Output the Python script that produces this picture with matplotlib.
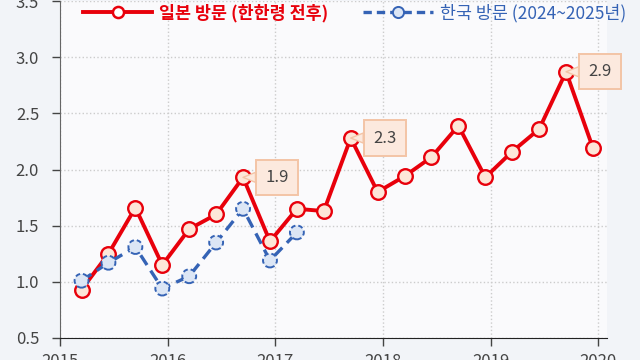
import matplotlib
matplotlib.use("Agg")
import matplotlib.pyplot as plt
from matplotlib.lines import Line2D

plt.rcParams['font.family'] = ['Noto Sans CJK KR', 'DejaVu Sans']

# quarterly points, in decimal years
quarters = [2015.2 + 0.25 * i for i in range(20)]
japan = [0.93, 1.25, 1.66, 1.15, 1.47, 1.60, 1.93, 1.36, 1.65, 1.63,
         2.28, 1.80, 1.94, 2.11, 2.39, 1.93, 2.16, 2.36, 2.87, 2.19]
korea = [1.01, 1.17, 1.31, 0.94, 1.05, 1.35, 1.65, 1.19, 1.44]
callouts = {6: "1.9", 10: "2.3", 18: "2.9"}

label_japan = "일본 방문 (한한령 전후)"
label_korea = "한국 방문 (2024~2025년)"

red = "#e8000b"
red_face = "#fde6d8"
blue = "#3563b5"
blue_face = "#dce6f5"

fig = plt.figure(figsize=(6.4, 3.6), dpi=100, facecolor="#f2f4f8")
ax = fig.add_axes([60 / 640, 22 / 360, 547 / 640, 337 / 360])
ax.set_facecolor("#fafafc")

ax.plot(quarters, japan, "-", color=red, lw=2.8, marker="o", ms=10.5,
        mfc=red_face, mec=red, mew=1.7, zorder=3)

ax.plot(quarters[:len(korea)], korea, color=blue, lw=2.4,
        dashes=(3.5, 2), zorder=4)
ax.scatter(quarters[:len(korea)], korea, s=100, facecolor=blue_face,
           edgecolor=blue, linewidths=1.4, linestyles=(0, (2.5, 1.5)),
           zorder=5)

for idx, txt in callouts.items():
    ax.annotate(txt, xy=(quarters[idx], japan[idx]), xytext=(34, 0),
                textcoords="offset pixels", ha="center", va="center",
                fontsize=12, color="#444444", zorder=6,
                bbox=dict(boxstyle="square,pad=0.55", fc="#fce9de",
                          ec="#f3c4a6", lw=1.4),
                arrowprops=dict(arrowstyle="wedge,tail_width=0.6",
                                fc="#fce9de", ec="#f3c4a6", lw=1.0,
                                shrinkA=0, shrinkB=0),
                annotation_clip=False)

ax.set_xlim(2015, 2020.08)
ax.set_ylim(0.5, 3.5)
ax.set_xticks([2015, 2016, 2017, 2018, 2019, 2020])
ax.set_yticks([0.5, 1.0, 1.5, 2.0, 2.5, 3.0, 3.5])
ax.set_yticklabels(["0.5", "1.0", "1.5", "2.0", "2.5", "3.0", "3.5"])
ax.tick_params(labelsize=12, colors="#444444", length=6, width=1)
ax.tick_params(axis="y", pad=9)
ax.tick_params(axis="x", pad=5)
ax.grid(color="#cccccc", ls=":", lw=1.0)
ax.set_axisbelow(True)
for side in ("top", "right"):
    ax.spines[side].set_visible(False)
ax.spines["left"].set_color("#666666")
ax.spines["bottom"].set_color("#222222")

h_japan = Line2D([], [], color=red, lw=2.8, marker="o", ms=8,
                 mfc="white", mec=red, mew=1.8)
h_korea = Line2D([], [], color=blue, lw=2.4, dashes=(2.5, 1.5), marker="o",
                 ms=8, mfc=blue_face, mec=blue, mew=1.4)
leg = fig.legend([h_japan, h_korea], [label_japan, label_korea],
                 loc="center left", bbox_to_anchor=(83 / 640, 1 - 13 / 360),
                 ncol=2, frameon=False, fontsize=12.5, handlelength=4.0,
                 handletextpad=0.4, columnspacing=2.0, numpoints=1,
                 borderpad=0, borderaxespad=0)
texts = leg.get_texts()
texts[0].set_color(red)
texts[0].set_fontweight("bold")
texts[1].set_color(blue)

fig.savefig("out.png", dpi=100, facecolor=fig.get_facecolor())
